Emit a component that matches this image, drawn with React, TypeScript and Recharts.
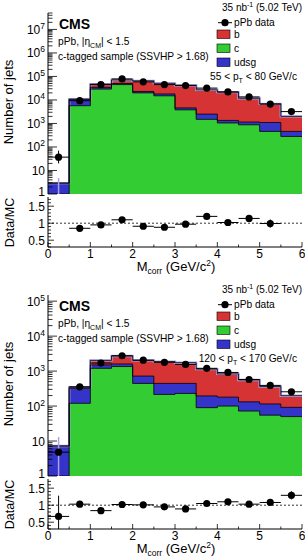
import React from "react";
import { ComposedChart, Area, Line, Scatter, ErrorBar, XAxis, YAxis, ReferenceLine } from "recharts";

const FONT = "'Liberation Sans', Arial, Helvetica, sans-serif";
const RED = "#d63434";
const GREEN = "#33cc33";
const BLUE = "#3434c8";
const LAVENDER = "#aaa2ea";

// corrected secondary-vertex mass bins (GeV/c^2)
const binEdges = [0, 0.5, 1, 1.5, 2, 2.5, 3, 3.5, 4, 4.5, 5, 5.5, 6];
const binCenters = [0.25, 0.75, 1.25, 1.75, 2.25, 2.75, 3.25, 3.75, 4.25, 4.75, 5.25, 5.75];

// 55 < pT < 80 GeV/c
const cJets55 = [0, 5700, 29000, 45000, 20000, 15000, 3800, 1500, 1050, 880, 460, 280];
const udsgJets55 = [2.9, 4600, 5500, 5000, 3000, 3000, 800, 1000, 300, 270, 640, 180];
const bJets55 = [0, 600, 12500, 21000, 42000, 33000, 37400, 24500, 20200, 10650, 5700, 1540];
const data55 = [37, 9300, 45000, 78500, 59000, 45000, 41000, 32000, 22000, 13500, 6700, 3200];
const dataErrDown55 = [17, 95, 210, 280, 240, 210, 200, 180, 150, 115, 80, 57];
const dataErrUp55 = [33, 95, 210, 280, 240, 210, 200, 180, 150, 115, 80, 57];
const mcBin0Range55 = [1, 4.8];
const ratio55 = [null, 0.85, 0.95, 1.1, 0.91, 0.88, 0.97, 1.2, 1.02, 1.14, 0.99, null];
const ratioErr55 = [0, 0.03, 0.03, 0.03, 0.03, 0.07, 0.03, 0.04, 0.04, 0.08, 0.12, 0];

// 120 < pT < 170 GeV/c
const cJets120 = [0, 120, 1200, 1350, 445, 215, 230, 90, 100, 72, 55, 50];
const udsgJets120 = [7.2, 200, 300, 250, 275, 230, 215, 105, 80, 60, 60, 42];
const bJets120 = [0, 25, 520, 1100, 1310, 1425, 1295, 945, 650, 426, 246, 106];
const data120 = [4.8, 355, 1700, 2750, 2050, 1780, 1550, 1200, 915, 575, 390, 256];
const dataErrDown120 = [0, 19, 41, 52, 45, 42, 39, 35, 30, 24, 20, 16];
const dataErrUp120 = [0, 19, 41, 52, 45, 42, 39, 35, 30, 24, 20, 16];
const mcBin0Range120 = [1, 13];
const ratio120 = [0.67, 1.03, 0.84, 1.02, 1.01, 0.95, 0.89, 1.05, 1.1, 1.03, 1.08, 1.29];
const ratioErrDown120 = [0.37, 0.04, 0.03, 0.03, 0.03, 0.03, 0.03, 0.04, 0.04, 0.05, 0.06, 0.12];
const ratioErrUp120 = [0.61, 0.04, 0.03, 0.03, 0.03, 0.03, 0.03, 0.04, 0.04, 0.05, 0.06, 0.12];

const xTicks: number[] = [];
for (let i = 0; i <= 12; i++) xTicks.push(i / 2);

const ratioTicks: number[] = [];
for (let i = 3; i <= 17; i++) ratioTicks.push(i / 10);

function logTicks(max: number) {
  const t: number[] = [];
  for (let p = 1; p <= max; p *= 10) {
    for (let m = 1; m <= 9; m++) if (m * p <= max) t.push(m * p);
  }
  return t;
}

// step rows at the bin edges; last edge repeats the last bin
function stackRows(c: number[], u: number[], b: number[]) {
  return binEdges.map((x, i) => {
    const k = Math.min(i, c.length - 1);
    return {
      x,
      c: Math.max(c[k], 1),
      cu: Math.max(c[k] + u[k], 1),
      tot: Math.max(c[k] + u[k] + b[k], 1),
    };
  });
}

function pointRows(vals: (number | null)[], down: number[], up: number[]) {
  return binCenters
    .map((x, i) => ({ x, y: vals[i], ex: 0.25, ey: [down[i], up[i]] }))
    .filter((p) => p.y !== null);
}

const Dot = (p: any) => <circle cx={p.cx} cy={p.cy} r={3.6} fill="#000" />;
const NoDot = () => <g />;

const XTick = ({ x, y, payload, side, len, labels }: any) => {
  const v = payload.value;
  const major = Math.abs(v - Math.round(v)) < 1e-6;
  const l = major ? len : len / 2;
  const dir = side === "bottom" ? -1 : 1;
  return (
    <g>
      <line x1={x} x2={x} y1={y} y2={y + dir * l} stroke="#000" strokeWidth={0.8} />
      {labels && major && (
        <text x={x} y={y + 10.5} textAnchor="middle" fontSize={12} fontFamily={FONT} fill="#000">
          {v}
        </text>
      )}
    </g>
  );
};

const LogTick = ({ x, y, payload, side }: any) => {
  const v = payload.value;
  const exp = Math.round(Math.log10(v));
  const major = Math.abs(v - Math.pow(10, exp)) < 1e-6 * v;
  const l = major ? 9 : 4.5;
  const dir = side === "left" ? 1 : -1;
  // the bottom label sits against the ratio pad, so lift it a little
  const dy = exp === 0 ? 1.5 : 4.5;
  return (
    <g>
      <line x1={x} x2={x + dir * l} y1={y} y2={y} stroke="#000" strokeWidth={0.8} />
      {side === "left" && major && (
        <text x={x - 3} y={y + dy} textAnchor="end" fontSize={12} fontFamily={FONT} fill="#000">
          {exp === 0 ? "1" : exp === 1 ? "10" : (
            <>
              10<tspan dy={-5} fontSize={8.5}>{exp}</tspan>
            </>
          )}
        </text>
      )}
    </g>
  );
};

const RatioTick = ({ x, y, payload, side }: any) => {
  const v = payload.value;
  const major = Math.abs(v * 2 - Math.round(v * 2)) < 1e-6;
  const l = major ? 6 : 3;
  const dir = side === "left" ? 1 : -1;
  return (
    <g>
      <line x1={x} x2={x + dir * l} y1={y} y2={y} stroke="#000" strokeWidth={0.8} />
      {side === "left" && major && (
        <text x={x - 3} y={y + 4.5} textAnchor="end" fontSize={12} fontFamily={FONT} fill="#000">
          {String(v)}
        </text>
      )}
    </g>
  );
};

const axisLine = { stroke: "#000", strokeWidth: 1 };

function xAxes(len: number, labels: boolean, height: number) {
  return [
    <XAxis
      key="xb"
      dataKey="x"
      type="number"
      domain={[0, 6]}
      allowDataOverflow
      ticks={xTicks}
      interval={0}
      height={height}
      tickLine={false}
      tickSize={0}
      tickMargin={0}
      axisLine={axisLine}
      tick={(p: any) => <XTick {...p} side="bottom" len={len} labels={labels} />}
    />,
    <XAxis
      key="xt"
      xAxisId="top"
      orientation="top"
      type="number"
      domain={[0, 6]}
      allowDataOverflow
      ticks={xTicks}
      interval={0}
      height={0}
      tickLine={false}
      tickSize={0}
      tickMargin={0}
      axisLine={axisLine}
      tick={(p: any) => <XTick {...p} side="top" len={len} labels={false} />}
    />,
  ];
}

interface PanelProps {
  top: number;
  yMax: number;
  c: number[];
  udsg: number[];
  b: number[];
  data: number[];
  dataDown: number[];
  dataUp: number[];
  mcBin0: number[];
  ratio: (number | null)[];
  ratioDown: number[];
  ratioUp: number[];
  ptLow: string;
  ptHigh: string;
}

const Panel = (p: PanelProps) => {
  const rows = stackRows(p.c, p.udsg, p.b);
  const points = pointRows(p.data, p.dataDown, p.dataUp);
  const tot0 = p.c[0] + p.udsg[0] + p.b[0];
  const band = [{ x: binCenters[0], y: tot0, ey: [tot0 - p.mcBin0[0], p.mcBin0[1] - tot0] }];
  const ratioPts = pointRows(p.ratio, p.ratioDown, p.ratioUp);
  const yTicks = logTicks(p.yMax);

  return (
    <>
      <div style={{ position: "absolute", left: 0, top: p.top }}>
        <ComposedChart width={305} height={202} data={rows} margin={{ top: 13, right: 3, bottom: 8, left: 0 }}>
          <Area type="stepAfter" dataKey="tot" fill={RED} fillOpacity={1} stroke="none" baseValue={1} isAnimationActive={false} />
          <Area type="stepAfter" dataKey="cu" fill={BLUE} fillOpacity={1} stroke="none" baseValue={1} isAnimationActive={false} />
          <Area type="stepAfter" dataKey="c" fill={GREEN} fillOpacity={1} stroke="none" baseValue={1} isAnimationActive={false} />
          <Line type="stepAfter" dataKey="tot" stroke={LAVENDER} strokeWidth={2.4} dot={false} activeDot={false} isAnimationActive={false} />
          <Line type="stepAfter" dataKey="tot" stroke="#000" strokeWidth={0.8} dot={false} activeDot={false} isAnimationActive={false} />
          <Line type="stepAfter" dataKey="cu" stroke="#000" strokeWidth={0.8} dot={false} activeDot={false} isAnimationActive={false} />
          <Line type="stepAfter" dataKey="c" stroke="#000" strokeWidth={0.8} dot={false} activeDot={false} isAnimationActive={false} />
          <Scatter data={band} dataKey="y" shape={NoDot} isAnimationActive={false}>
            <ErrorBar dataKey="ey" direction="y" width={0} stroke={LAVENDER} strokeWidth={1.5} />
          </Scatter>
          <Scatter data={points} dataKey="y" shape={Dot} isAnimationActive={false}>
            <ErrorBar dataKey="ex" direction="x" width={0} stroke="#000" strokeWidth={1} />
            <ErrorBar dataKey="ey" direction="y" width={0} stroke="#000" strokeWidth={1} />
          </Scatter>
          {xAxes(7, false, 0)}
          <YAxis
            scale="log"
            type="number"
            domain={[1, p.yMax]}
            allowDataOverflow
            ticks={yTicks}
            interval={0}
            width={48}
            tickLine={false}
            tickSize={0}
            tickMargin={0}
            axisLine={axisLine}
            tick={(t: any) => <LogTick {...t} side="left" />}
          />
          <YAxis
            yAxisId="right"
            orientation="right"
            scale="log"
            type="number"
            domain={[1, p.yMax]}
            allowDataOverflow
            ticks={yTicks}
            interval={0}
            width={0}
            tickLine={false}
            tickSize={0}
            tickMargin={0}
            axisLine={axisLine}
            tick={(t: any) => <LogTick {...t} side="right" />}
          />
        </ComposedChart>
      </div>
      <div style={{ position: "absolute", left: 0, top: p.top + 195 }}>
        <ComposedChart width={305} height={72} margin={{ top: 2, right: 3, bottom: 0, left: 0 }}>
          <ReferenceLine y={1} stroke="#000" strokeWidth={0.8} strokeDasharray="2 2" />
          <Scatter data={ratioPts} dataKey="y" shape={Dot} isAnimationActive={false}>
            <ErrorBar dataKey="ex" direction="x" width={0} stroke="#000" strokeWidth={1} />
            <ErrorBar dataKey="ey" direction="y" width={0} stroke="#000" strokeWidth={1} />
          </Scatter>
          {xAxes(5, true, 20)}
          <YAxis
            type="number"
            domain={[0.3, 1.77]}
            allowDataOverflow
            ticks={ratioTicks}
            interval={0}
            width={48}
            tickLine={false}
            tickSize={0}
            tickMargin={0}
            axisLine={axisLine}
            tick={(t: any) => <RatioTick {...t} side="left" />}
          />
          <YAxis
            yAxisId="right"
            orientation="right"
            type="number"
            domain={[0.3, 1.77]}
            allowDataOverflow
            ticks={ratioTicks}
            interval={0}
            width={0}
            tickLine={false}
            tickSize={0}
            tickMargin={0}
            axisLine={axisLine}
            tick={(t: any) => <RatioTick {...t} side="right" />}
          />
        </ComposedChart>
      </div>
      <svg
        width={305}
        height={282}
        style={{ position: "absolute", left: 0, top: p.top, pointerEvents: "none" }}
        fontFamily={FONT}
      >
        <text x={302} y={10.5} textAnchor="end" fontSize={10}>
          35 nb<tspan dy={-4} fontSize={7}>-1</tspan>
          <tspan dy={4}> (5.02 TeV)</tspan>
        </text>
        <text x={59} y={29} fontSize={14} fontWeight="bold">CMS</text>
        <text x={58} y={45.2} fontSize={10.2}>
          pPb, |η<tspan dy={2.5} fontSize={7}>CM</tspan>
          <tspan dy={-2.5}>| &lt; 1.5</tspan>
        </text>
        <text x={58} y={59.6} fontSize={10.2}>c-tagged sample (SSVHP &gt; 1.68)</text>

        <line x1={218} x2={232} y1={22.7} y2={22.7} stroke="#000" strokeWidth={1} />
        <circle cx={225} cy={22.7} r={3.6} fill="#000" />
        <text x={234} y={26.2} fontSize={10.2}>pPb data</text>
        <rect x={217} y={30} width={13} height={8.5} fill={RED} stroke="#000" strokeWidth={0.6} />
        <text x={234} y={37.5} fontSize={10.2}>b</text>
        <rect x={217} y={44} width={13} height={8.5} fill={GREEN} stroke="#000" strokeWidth={0.6} />
        <text x={234} y={51.5} fontSize={10.2}>c</text>
        <rect x={217} y={58} width={13} height={8.5} fill={BLUE} stroke="#000" strokeWidth={0.6} />
        <text x={234} y={65.5} fontSize={10.2}>udsg</text>
        <text x={297} y={80} textAnchor="end" fontSize={10.2}>
          {p.ptLow} &lt; p<tspan dy={2.5} fontSize={7}>T</tspan>
          <tspan dy={-2.5}> &lt; {p.ptHigh} GeV/c</tspan>
        </text>

        <text transform="translate(13,102) rotate(-90)" textAnchor="middle" fontSize={13}>Number of jets</text>
        <text transform="translate(14,222.5) rotate(-90)" textAnchor="middle" fontSize={12.5}>Data/MC</text>
        <text x={176} y={271} textAnchor="middle" fontSize={13}>
          M<tspan dy={2.5} fontSize={8.5}>corr</tspan>
          <tspan dy={-2.5}> (GeV/c</tspan>
          <tspan dy={-5} fontSize={8.5}>2</tspan>
          <tspan dy={5}>)</tspan>
        </text>
      </svg>
    </>
  );
};

export default function App() {
  return (
    <div style={{ position: "absolute", left: 0, top: 0, width: 305, height: 560, background: "#fff" }}>
      <Panel
        top={0}
        yMax={5e7}
        c={cJets55}
        udsg={udsgJets55}
        b={bJets55}
        data={data55}
        dataDown={dataErrDown55}
        dataUp={dataErrUp55}
        mcBin0={mcBin0Range55}
        ratio={ratio55}
        ratioDown={ratioErr55}
        ratioUp={ratioErr55}
        ptLow="55"
        ptHigh="80"
      />
      <Panel
        top={282}
        yMax={1.5e5}
        c={cJets120}
        udsg={udsgJets120}
        b={bJets120}
        data={data120}
        dataDown={dataErrDown120}
        dataUp={dataErrUp120}
        mcBin0={mcBin0Range120}
        ratio={ratio120}
        ratioDown={ratioErrDown120}
        ratioUp={ratioErrUp120}
        ptLow="120"
        ptHigh="170"
      />
    </div>
  );
}
